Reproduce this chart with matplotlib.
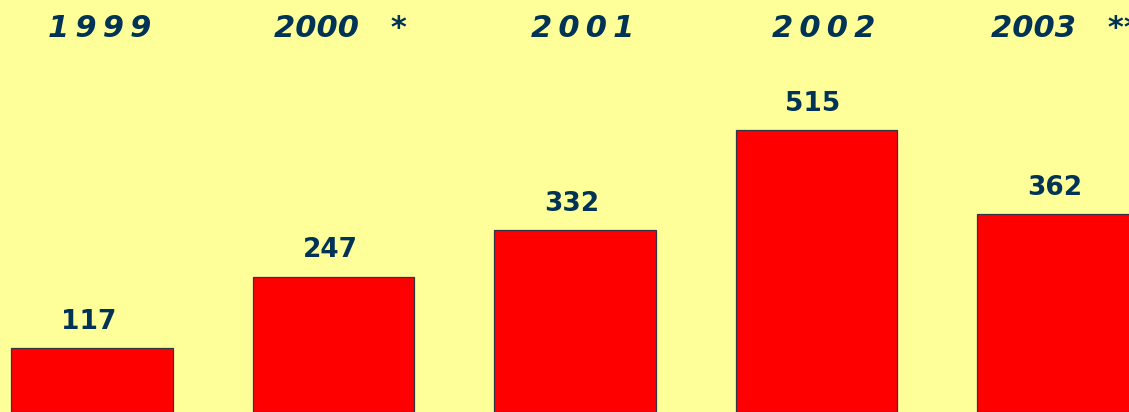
import matplotlib.pyplot as plt

# data
years = ['1\u20099\u20099\u20099', '2000   *', '2\u20090\u20090\u20091', '2\u20090\u20090\u20092', '2003   **']
values = [117, 247, 332, 515, 362]

bg = '#FFFF99'
navy = '#003355'

fig = plt.figure(figsize=(11.29, 4.12), dpi=100, facecolor=bg)
ax = fig.add_axes([0, 0, 1, 1])
ax.set_facecolor(bg)

x = list(range(len(values)))
ax.bar(x, values, width=0.667, color='#FF0000', edgecolor='#333344', linewidth=0.9)

for xi, v in zip(x, values):
    ax.annotate(str(v), (xi - 0.015, v), xytext=(0, 19), textcoords='offset points',
                ha='center', va='center', fontsize=19, fontweight='bold', color=navy)

for xi, lab in zip(x, years):
    ax.text(xi + 0.03, 0.932, lab, transform=ax.get_xaxis_transform(),
            ha='center', va='center', fontsize=22, fontweight='bold',
            fontstyle='italic', color=navy)

ax.set_xlim(-0.381, 4.294)
ax.set_ylim(0, 753)
ax.axis('off')

fig.savefig('out.png', dpi=100, facecolor=bg)
